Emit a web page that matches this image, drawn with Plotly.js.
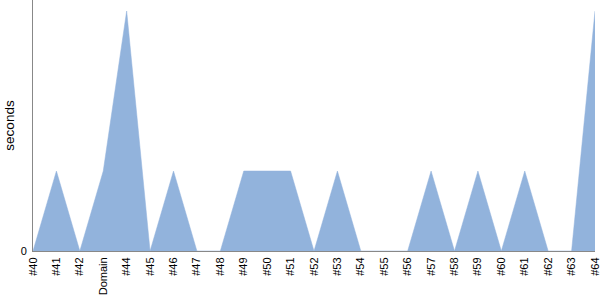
<!DOCTYPE html>
<html>
<head>
<meta charset="utf-8">
<script src="https://cdn.plot.ly/plotly-3.0.1.min.js"></script>
<style>html,body{margin:0;padding:0;background:#fff}#chart{width:600px;height:300px}</style>
</head>
<body>
<div id="chart"></div>
<script>
const categories = ["#40","#41","#42","Domain","#44","#45","#46","#47","#48","#49","#50","#51","#52","#53","#54","#55","#56","#57","#58","#59","#60","#61","#62","#63","#64"];
const seconds = [0,1,0,1,3,0,1,0,0,1,1,1,0,1,0,0,0,1,0,1,0,1,0,0,3];
const yTicks = [0];

Plotly.newPlot('chart', [{
  x: categories,
  y: seconds,
  type: 'scatter',
  mode: 'lines',
  fill: 'tozeroy',
  fillcolor: '#92b3dc',
  line: {color: '#92b3dc', width: 0.5},
  hoverinfo: 'skip'
}], {
  width: 600, height: 300,
  margin: {l: 33, r: 5, t: 0, b: 49},
  paper_bgcolor: '#fff', plot_bgcolor: '#fff',
  font: {family: 'Liberation Sans, Arial, sans-serif', size: 11, color: '#000'},
  showlegend: false,
  xaxis: {
    type: 'category', range: [0, categories.length - 1],
    tickangle: -90, showgrid: false, zeroline: false,
    showline: true, linecolor: '#888', linewidth: 1,
    ticks: '', tickfont: {size: 11}, ticklabelstandoff: 1
  },
  yaxis: {
    range: [0, 3.1375], tickvals: yTicks, ticktext: ['0'],
    showgrid: false, zeroline: false,
    showline: true, linecolor: '#888', linewidth: 1,
    ticks: '', ticklen: 0, ticklabelstandoff: 3,
    tickfont: {size: 11},
    title: {text: 'seconds', font: {size: 13.5}, standoff: 2}
  }
}, {staticPlot: true});
</script>
</body>
</html>
